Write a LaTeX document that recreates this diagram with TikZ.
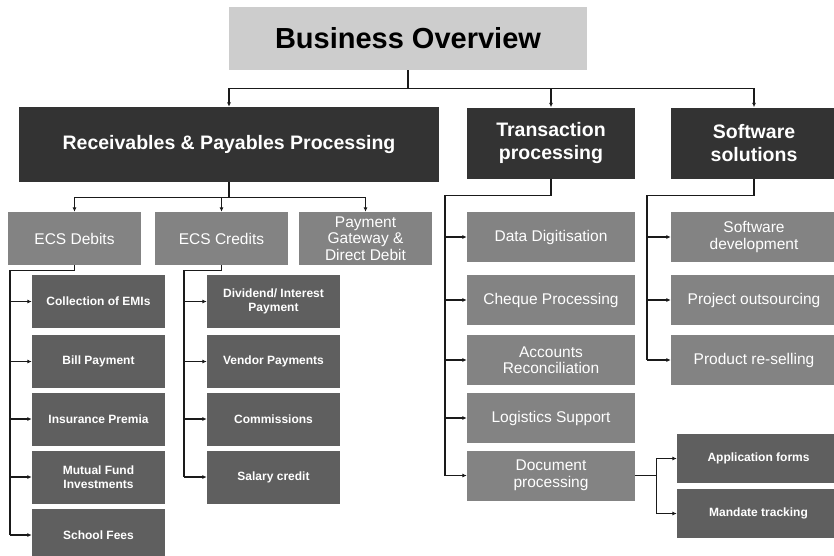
\documentclass[tikz,border=0pt]{standalone}
\usepackage{fontspec}
\setmainfont{Liberation Sans}
\usetikzlibrary{arrows.meta}
\definecolor{title-bg}{HTML}{CDCDCD}
\definecolor{head-bg}{HTML}{333333}
\definecolor{mid-bg}{HTML}{838383}
\definecolor{leaf-bg}{HTML}{5F5F5F}
\definecolor{jet}{HTML}{1A1A1A}

\begin{document}
\begin{tikzpicture}[x=1pt, y=-1pt,
    every node/.style={align=center, inner sep=0pt, text=white},
    headbox/.style={fill=head-bg, font=\fontsize{19.5}{23}\selectfont\bfseries},
    midbox/.style={fill=mid-bg, font=\fontsize{15.5}{16.5}\selectfont},
    leafbox/.style={fill=leaf-bg, font=\fontsize{12}{14.3}\selectfont\bfseries},
    wire/.style={line width=1.1pt, color=jet},
    conn/.style={wire, -{Latex[length=4.5pt, width=4pt]}}]
    \useasboundingbox (0,0) rectangle (834,555);
    \node[fill=title-bg, text=black, font=\fontsize{29}{30}\selectfont\bfseries,
      minimum width=358pt, minimum height=63pt] (bo) at (408,38.5) {Business Overview};
    \node[headbox, minimum width=420pt, minimum height=75pt] (rpp) at (229,144.5) {Receivables \& Payables Processing};
    \node[headbox, minimum width=168pt, minimum height=71pt] (trp) at (551,143) {Transaction\\processing};
    \node[headbox, minimum width=166pt, minimum height=71pt] (sws) at (754,143) {Software\\solutions};
    \node[midbox, minimum width=133pt, minimum height=53pt] (ecsd) at (74.5,238.5) {ECS Debits};
    \node[midbox, minimum width=133pt, minimum height=53pt] (ecsc) at (221.5,238.5) {ECS Credits};
    \node[midbox, minimum width=133pt, minimum height=53pt] (pgdd) at (365.5,238.5) {Payment\\Gateway \&\\Direct Debit};
    \node[leafbox, minimum width=133pt, minimum height=53pt] (emis) at (98.5,301.5) {Collection of EMIs};
    \node[leafbox, minimum width=133pt, minimum height=53pt] (bill) at (98.5,361.5) {Bill Payment};
    \node[leafbox, minimum width=133pt, minimum height=53pt] (insp) at (98.5,419) {Insurance Premia};
    \node[leafbox, minimum width=133pt, minimum height=53pt] (mfin) at (98.5,477) {Mutual Fund\\Investments};
    \node[leafbox, minimum width=133pt, minimum height=53pt] (fees) at (98.5,535) {School Fees};
    \node[leafbox, minimum width=133pt, minimum height=53pt] (divi) at (273.5,301.5) {Dividend/ Interest\\Payment};
    \node[leafbox, minimum width=133pt, minimum height=53pt] (vend) at (273.5,361.5) {Vendor Payments};
    \node[leafbox, minimum width=133pt, minimum height=53pt] (comm) at (273.5,419) {Commissions};
    \node[leafbox, minimum width=133pt, minimum height=53pt] (sala) at (273.5,477) {Salary credit};
    \node[midbox, minimum width=168pt, minimum height=50pt] (digi) at (551,237) {Data Digitisation};
    \node[midbox, minimum width=168pt, minimum height=50pt] (cheq) at (551,300) {Cheque Processing};
    \node[midbox, minimum width=168pt, minimum height=50pt] (accr) at (551,360) {Accounts\\Reconciliation};
    \node[midbox, minimum width=168pt, minimum height=50pt] (logi) at (551,418) {Logistics Support};
    \node[midbox, minimum width=168pt, minimum height=50pt] (docp) at (551,475.5) {Document\\processing};
    \node[midbox, minimum width=166pt, minimum height=50pt] (swdv) at (754,237) {Software\\development};
    \node[midbox, minimum width=166pt, minimum height=50pt] (prjo) at (754,300) {Project outsourcing};
    \node[midbox, minimum width=166pt, minimum height=50pt] (prrs) at (754,360) {Product re-selling};
    \node[leafbox, minimum width=163pt, minimum height=49pt] (appf) at (758.5,458.5) {Application forms};
    \node[leafbox, minimum width=163pt, minimum height=49pt] (mand) at (758.5,513.5) {Mandate tracking};
    \coordinate (dtrunk) at (10,535);
    \coordinate (ctrunk) at (184,477);
    \coordinate (ttrunk) at (445,475.5);
    \coordinate (strunk) at (647,360);
    \draw[conn] (bo.south) -- ++(0,18) -| (rpp.north);
    \draw[conn] (bo.south) -- ++(0,18) -| (trp.north);
    \draw[conn] (bo.south) -- ++(0,18) -| (sws.north);
    \draw[conn] (rpp.south) -- ++(0,15) -| (ecsd.north);
    \draw[conn] (rpp.south) -- ++(0,15) -| (ecsc.north);
    \draw[conn] (rpp.south) -- ++(0,15) -| (pgdd.north);
    \draw[wire] (ecsd.south) -- ++(0,5) -| (dtrunk);
    \draw[conn] (dtrunk |- emis.west) -- (emis.west);
    \draw[conn] (dtrunk |- bill.west) -- (bill.west);
    \draw[conn] (dtrunk |- insp.west) -- (insp.west);
    \draw[conn] (dtrunk |- mfin.west) -- (mfin.west);
    \draw[conn] (dtrunk |- fees.west) -- (fees.west);
    \draw[wire] (ecsc.south) -- ++(0,5) -| (ctrunk);
    \draw[conn] (ctrunk |- divi.west) -- (divi.west);
    \draw[conn] (ctrunk |- vend.west) -- (vend.west);
    \draw[conn] (ctrunk |- comm.west) -- (comm.west);
    \draw[conn] (ctrunk |- sala.west) -- (sala.west);
    \draw[wire] (trp.south) -- ++(0,17) -| (ttrunk);
    \draw[conn] (ttrunk |- digi.west) -- (digi.west);
    \draw[conn] (ttrunk |- cheq.west) -- (cheq.west);
    \draw[conn] (ttrunk |- accr.west) -- (accr.west);
    \draw[conn] (ttrunk |- logi.west) -- (logi.west);
    \draw[conn] (ttrunk |- docp.west) -- (docp.west);
    \draw[wire] (sws.south) -- ++(0,17) -| (strunk);
    \draw[conn] (strunk |- swdv.west) -- (swdv.west);
    \draw[conn] (strunk |- prjo.west) -- (prjo.west);
    \draw[conn] (strunk |- prrs.west) -- (prrs.west);
    \draw[wire] (docp.east) -- ++(21,0) coordinate (dsplit);
    \draw[conn] (dsplit) |- (appf.west);
    \draw[conn] (dsplit) |- (mand.west);
  \end{tikzpicture}
\end{document}
